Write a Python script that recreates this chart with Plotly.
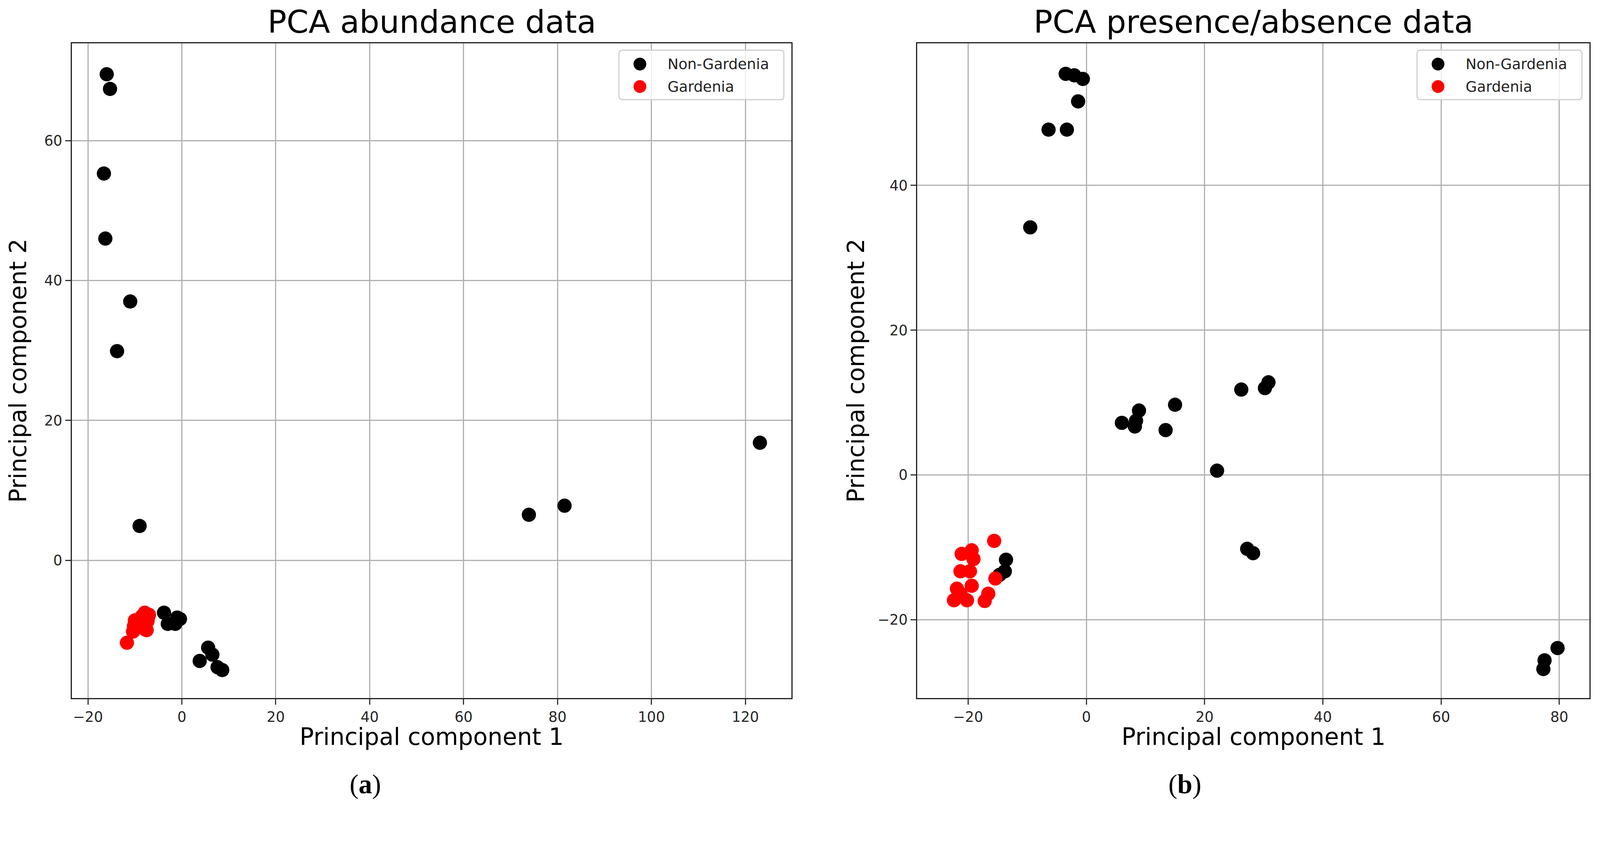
import plotly.graph_objects as go

# PCA scores
abund_non_x = [-16.0, -15.3, -16.6, -16.3, -11.0, -13.8, -9.0, 123.1, 73.9, 81.5,
               -3.8, -3.0, -1.4, -1.0, -0.4, 5.6, 6.5, 3.8, 7.6, 8.6]
abund_non_y = [69.5, 67.4, 55.3, 46.0, 37.0, 29.9, 4.9, 16.8, 6.5, 7.8,
               -7.5, -9.1, -9.1, -8.2, -8.4, -12.5, -13.5, -14.4, -15.3, -15.7]
abund_gar_x = [-11.7, -7.9, -10.0, -7.3, -10.4, -7.8, -9.2, -7.0, -8.5, -9.6, -7.5, -8.3, -10.2, -7.2]
abund_gar_y = [-11.8, -7.5, -8.6, -8.7, -10.2, -9.9, -9.4, -7.8, -8.0, -9.0, -10.0, -9.6, -9.4, -8.2]

pres_non_x = [-3.5, -2.05, -0.6, -1.4, -6.4, -3.3, -9.5, 6.0, 8.2, 8.4, 8.9, 13.4, 15.0,
              26.2, 30.2, 30.8, 22.1, 27.2, 28.2, 79.7, 77.5, 77.3, -13.6, -13.8, -14.7]
pres_non_y = [55.4, 55.2, 54.7, 51.6, 47.7, 47.7, 34.2, 7.2, 6.7, 7.5, 8.9, 6.2, 9.7,
              11.8, 12.0, 12.8, 0.6, -10.2, -10.8, -23.9, -25.6, -26.8, -11.7, -13.3, -13.8]
pres_gar_x = [-15.6, -21.1, -19.4, -19.1, -21.3, -19.7, -15.4, -21.9, -19.4, -22.4, -20.2, -21.3, -16.6, -17.2]
pres_gar_y = [-9.1, -10.9, -10.4, -11.6, -13.3, -13.3, -14.3, -15.7, -15.3, -17.3, -17.3, -16.4, -16.4, -17.4]

group_names = ['Non-Gardenia', 'Gardenia']
group_colors = ['black', 'red']
panel_titles = ['PCA abundance data', 'PCA presence/absence data']
panel_tags = ['(<b>a</b>)', '(<b>b</b>)']

# the visible page is about 4094 css px wide, so reference pixels are scaled by K
K = 4094 / 4266
PAD = 8  # body margin
W, H = 4070, 2056
font = 'DejaVu Sans'


def px(r):
    return (r * K - PAD) / W


def py(r):
    return 1 - (r * K - PAD) / H


def sz(v):
    return v * K


fig = go.Figure()

panels = [
    ('x', 'y', abund_non_x, abund_non_y, abund_gar_x, abund_gar_y),
    ('x2', 'y2', pres_non_x, pres_non_y, pres_gar_x, pres_gar_y),
]
for xa, ya, nx, ny, gx, gy in panels:
    for (xs, ys), name, color in zip([(nx, ny), (gx, gy)], group_names, group_colors):
        fig.add_trace(go.Scatter(
            x=xs, y=ys, mode='markers', name=name, xaxis=xa, yaxis=ya,
            marker=dict(color=color, size=sz(38), line=dict(width=0)),
            showlegend=False
        ))

# axes boxes in reference pixels (left, right)
x_boxes = [(192, 2111), (2447, 4240)]
ylabel_offsets = [144, 164]
top, bottom = 116, 1863

axis_style = dict(
    showline=True, mirror=True, linecolor='#222222', linewidth=3,
    ticks='outside', ticklen=sz(15), tickwidth=3, tickcolor='#333333',
    showgrid=True, gridcolor='#b0b0b0', gridwidth=3, zeroline=False,
    dtick=20, tick0=0, tickfont=dict(family=font, size=sz(38), color='#262626')
)

fig.update_layout(
    width=W, height=H,
    margin=dict(l=0, r=0, t=0, b=0),
    plot_bgcolor='white', paper_bgcolor='white',
    showlegend=False,
    xaxis=dict(domain=[px(x_boxes[0][0]), px(x_boxes[0][1])], range=[-23.4, 129.8], anchor='y', **axis_style),
    yaxis=dict(domain=[py(bottom), py(top)], range=[-19.7, 73.9], anchor='x', **axis_style),
    xaxis2=dict(domain=[px(x_boxes[1][0]), px(x_boxes[1][1])], range=[-28.6, 85.1], anchor='y2', **axis_style),
    yaxis2=dict(domain=[py(bottom), py(top)], range=[-30.8, 59.6], anchor='x2', **axis_style),
)


def rounded_box(x0, y0, x1, y1, rad):
    # rounded rectangle path in paper coords, corners given in reference pixels
    X = lambda v: f'{px(v):.6f}'
    Y = lambda v: f'{py(v):.6f}'
    return (f'M {X(x0 + rad)},{Y(y0)} L {X(x1 - rad)},{Y(y0)} Q {X(x1)},{Y(y0)} {X(x1)},{Y(y0 + rad)} '
            f'L {X(x1)},{Y(y1 - rad)} Q {X(x1)},{Y(y1)} {X(x1 - rad)},{Y(y1)} '
            f'L {X(x0 + rad)},{Y(y1)} Q {X(x0)},{Y(y1)} {X(x0)},{Y(y1 - rad)} '
            f'L {X(x0)},{Y(y0 + rad)} Q {X(x0)},{Y(y0)} {X(x0 + rad)},{Y(y0)} Z')


annotations = []
shapes = []
for i, (x0, x1) in enumerate(x_boxes):
    cx = (x0 + x1) / 2
    # title
    annotations.append(dict(text=panel_titles[i], x=px(cx), y=py(58), xref='paper', yref='paper',
                            showarrow=False, xanchor='center', yanchor='middle',
                            font=dict(family=font, size=sz(84), color='black')))
    # axis labels
    annotations.append(dict(text='Principal component 1', x=px(cx), y=py(1966), xref='paper', yref='paper',
                            showarrow=False, xanchor='center', yanchor='middle',
                            font=dict(family=font, size=sz(63), color='black')))
    annotations.append(dict(text='Principal component 2', x=px(x0 - ylabel_offsets[i]), y=py((top + bottom) / 2),
                            xref='paper', yref='paper', showarrow=False, textangle=-90,
                            xanchor='center', yanchor='middle',
                            font=dict(family=font, size=sz(63), color='black')))

    # legend box, upper right
    lx1 = x1 - 20
    lx0 = lx1 - 440
    ly0 = top + 18
    ly1 = ly0 + 132
    shapes.append(dict(type='path', xref='paper', yref='paper', path=rounded_box(lx0, ly0, lx1, ly1, 10),
                       line=dict(color='#d0d0d0', width=3), fillcolor='rgba(255,255,255,0.8)'))
    for j, (name, color) in enumerate(zip(group_names, group_colors)):
        my = ly0 + 37 + j * 60
        mx = lx0 + 56
        r = 17
        shapes.append(dict(type='circle', xref='paper', yref='paper',
                           x0=px(mx - r), x1=px(mx + r), y0=py(my + r), y1=py(my - r),
                           fillcolor=color, line=dict(width=0)))
        annotations.append(dict(text=name, x=px(lx0 + 128), y=py(my), xref='paper', yref='paper',
                                showarrow=False, xanchor='left', yanchor='middle',
                                font=dict(family=font, size=sz(39), color='#222222')))

# panel tags
annotations.append(dict(text=panel_tags[0], x=px(975), y=py(2093), xref='paper', yref='paper',
                        showarrow=False, xanchor='center', yanchor='middle',
                        font=dict(family='Liberation Serif', size=sz(72), color='black')))
annotations.append(dict(text=panel_tags[1], x=px(3160), y=py(2093), xref='paper', yref='paper',
                        showarrow=False, xanchor='center', yanchor='middle',
                        font=dict(family='Liberation Serif', size=sz(72), color='black')))

fig.update_layout(annotations=annotations, shapes=shapes)

fig.write_html("out.html")
